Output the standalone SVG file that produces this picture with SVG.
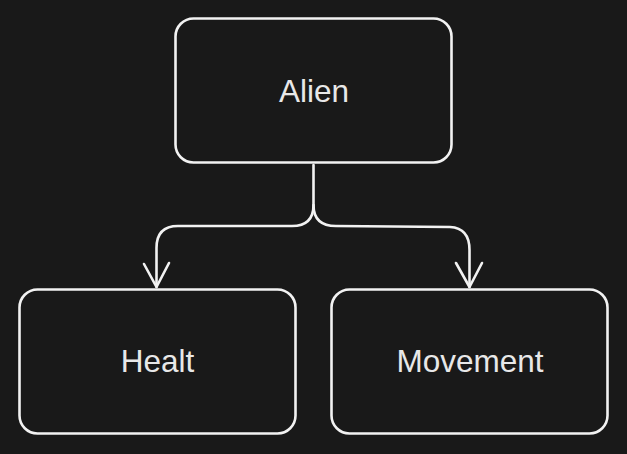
<svg xmlns="http://www.w3.org/2000/svg" width="627" height="454" viewBox="0 0 627 454">
<style>
.box{fill:#191919;stroke:#f2f2f2;stroke-width:2.6}
.lbl{font-family:"Liberation Sans",Arial,sans-serif;font-size:31.5px;fill:#e8e8e8;text-anchor:middle}
.edge{fill:none;stroke:#f2f2f2;stroke-width:2.6;stroke-linecap:round;stroke-linejoin:round}
</style>
<rect width="627" height="454" fill="#191919"/>
<g id="alien"><rect class="box" x="175.5" y="18.5" width="276" height="144" rx="18"/><text class="lbl" x="314" y="101.5">Alien</text></g>
<g id="healt"><rect class="box" x="19.5" y="289.5" width="276" height="144" rx="18"/><text class="lbl" x="157.5" y="371.5">Healt</text></g>
<g id="movement"><rect class="box" x="331.5" y="289.5" width="276" height="144" rx="18"/><text class="lbl" x="470" y="371.5">Movement</text></g>
<g id="connectors">
<path class="edge" d="M313.5 165 L313.5 205 Q313.5 226 292 226 L178 226 Q156.5 226 156.5 248 L156.5 287"/>
<path class="edge" d="M144 264 L156.5 287 L169 263"/>
<path class="edge" d="M313.5 205 Q313.5 226 336 226 L450 227 Q469.5 228 469.5 250 L469.5 287"/>
<path class="edge" d="M456 263 L469.5 287 L482 263"/>
</g>
</svg>
